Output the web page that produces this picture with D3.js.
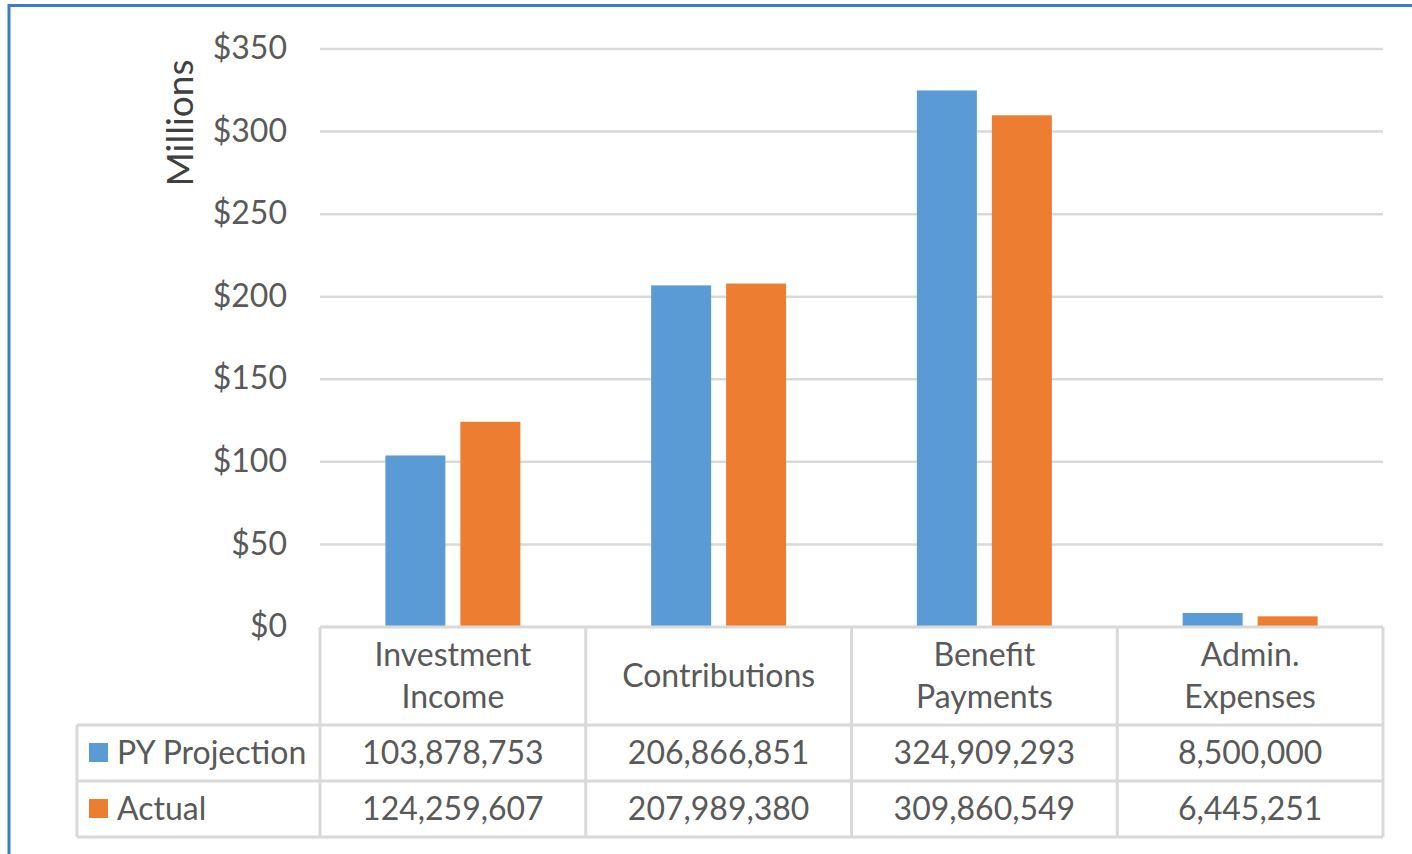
<!DOCTYPE html>
<html>
<head>
<meta charset="utf-8">
<script src="https://cdn.jsdelivr.net/npm/d3@7"></script>
<style>
  body { margin: 0; background: #fff; }
  svg { display: block; }
  text { font-family: Lato, "Open Sans", sans-serif; fill: #595959; }
</style>
</head>
<body>
<svg id="chart"></svg>
<script>
const categories = ["Investment Income", "Contributions", "Benefit Payments", "Admin. Expenses"];
const categoryLines = [["Investment", "Income"], ["Contributions"], ["Benefit", "Payments"], ["Admin.", "Expenses"]];
const seriesNames = ["PY Projection", "Actual"];
const projection = [103878753, 206866851, 324909293, 8500000];
const actual = [124259607, 207989380, 309860549, 6445251];
const yTicks = [0, 50, 100, 150, 200, 250, 300, 350];
const colors = ["#5b9bd5", "#ed7d31"];

const W = 1412, H = 854;
const margin = { left: 320, right: 29, top: 49, bottom: 227 };
const plotW = W - margin.left - margin.right;
const plotH = H - margin.top - margin.bottom;
const fs = 32;

const svg = d3.select("#chart").attr("width", W).attr("height", H);

// outer frame
svg.append("rect")
    .attr("x", 9).attr("y", 5.5)
    .attr("width", W + 20).attr("height", H + 20)
    .attr("fill", "none")
    .attr("stroke", "#3d7cc7")
    .attr("stroke-width", 3);

const g = svg.append("g").attr("transform", `translate(${margin.left},${margin.top})`);

const x = d3.scaleBand().domain(categories).range([0, plotW]).padding(0);
const x1 = d3.scaleBand().domain(seriesNames).range([0, x.bandwidth()])
    .paddingInner(0.2).paddingOuter(0.872);
const y = d3.scaleLinear().domain([0, 350]).range([plotH, 0]);

// gridlines
g.selectAll(".grid")
    .data(yTicks.filter(d => d > 0))
    .enter().append("line")
    .attr("x1", 0).attr("x2", plotW)
    .attr("y1", d => y(d)).attr("y2", d => y(d))
    .attr("stroke", "#d9d9d9")
    .attr("stroke-width", 2.5);

// y axis labels
const yAxis = g.append("g")
    .call(d3.axisLeft(y).tickValues(yTicks).tickSize(0).tickPadding(33).tickFormat(d => "$" + d));
yAxis.select(".domain").remove();
yAxis.selectAll("text")
    .attr("font-family", "Lato, 'Open Sans', sans-serif")
    .attr("font-size", fs)
    .attr("fill", "#595959")
    .attr("dy", "0.3em");

g.append("text")
    .attr("transform", `translate(-140,${y(350) + 74}) rotate(-90)`)
    .attr("text-anchor", "middle")
    .attr("dy", "0.35em")
    .attr("font-size", 37)
    .style("fill", "#404040")
    .text("Millions");

// bars
const series = [projection, actual];
series.forEach((vals, si) => {
    g.selectAll(".bar" + si)
        .data(vals)
        .enter().append("rect")
        .attr("x", (d, i) => x(categories[i]) + x1(seriesNames[si]))
        .attr("y", d => y(d / 1e6))
        .attr("width", x1.bandwidth())
        .attr("height", d => y(0) - y(d / 1e6))
        .attr("fill", colors[si]);
});

// data table
const headerH = 98, rowH = 56;
const tableTop = plotH;
const tableLeft = 77 - margin.left;
const tg = g.append("g");
const lineStyle = sel => sel.attr("stroke", "#d9d9d9").attr("stroke-width", 3).attr("fill", "none");

// horizontal lines
tg.append("line").attr("x1", 0).attr("x2", plotW).attr("y1", tableTop).attr("y2", tableTop).call(lineStyle);
[0, 1, 2].forEach(r => {
    const yy = tableTop + headerH + r * rowH;
    tg.append("line").attr("x1", tableLeft).attr("x2", plotW).attr("y1", yy).attr("y2", yy).call(lineStyle);
});
// vertical lines
categories.concat([null]).forEach(c => {
    const xx = c ? x(c) : plotW;
    tg.append("line").attr("x1", xx).attr("x2", xx)
        .attr("y1", tableTop).attr("y2", tableTop + headerH + 2 * rowH).call(lineStyle);
});
tg.append("line").attr("x1", tableLeft).attr("x2", tableLeft)
    .attr("y1", tableTop + headerH).attr("y2", tableTop + headerH + 2 * rowH).call(lineStyle);

// header labels
categories.forEach((c, i) => {
    const lines = categoryLines[i];
    const cx = x(c) + x.bandwidth() / 2;
    const cy = tableTop + headerH / 2;
    lines.forEach((l, li) => {
        tg.append("text")
            .attr("x", cx)
            .attr("y", cy + (li - (lines.length - 1) / 2) * 42)
            .attr("text-anchor", "middle")
            .attr("dy", "0.35em")
            .attr("font-size", fs)
            .text(l);
    });
});

// rows
series.forEach((vals, si) => {
    const cy = tableTop + headerH + si * rowH + rowH / 2;
    tg.append("rect")
        .attr("x", tableLeft + 12).attr("y", cy - 10)
        .attr("width", 19).attr("height", 19)
        .attr("fill", colors[si]);
    tg.append("text")
        .attr("x", tableLeft + 40).attr("y", cy)
        .attr("dy", "0.35em")
        .attr("font-size", fs)
        .text(seriesNames[si]);
    vals.forEach((v, i) => {
        tg.append("text")
            .attr("x", x(categories[i]) + x.bandwidth() / 2)
            .attr("y", cy)
            .attr("text-anchor", "middle")
            .attr("dy", "0.35em")
            .attr("font-size", fs)
            .text(d3.format(",")(v));
    });
});
</script>
</body>
</html>
